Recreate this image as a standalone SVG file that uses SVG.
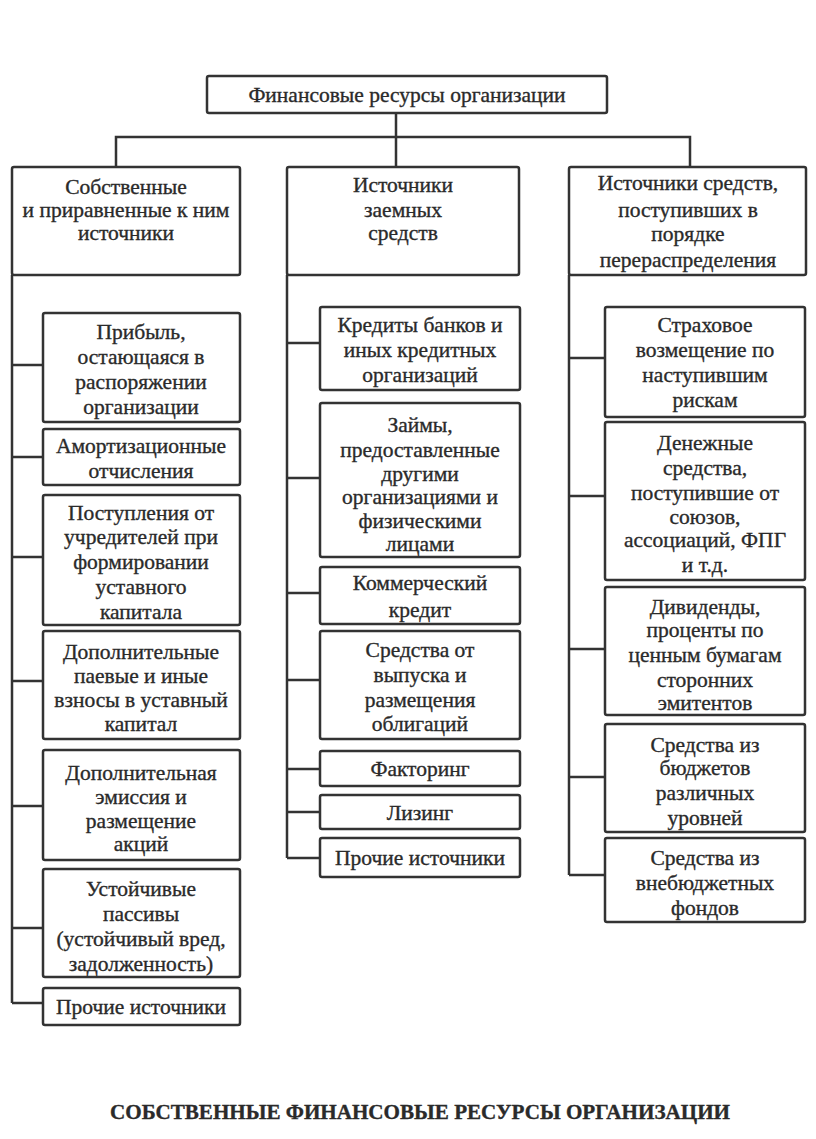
<svg xmlns="http://www.w3.org/2000/svg" width="816" height="1139" viewBox="0 0 816 1139">
<defs>
<style>
.b{fill:#fff;stroke:#333;stroke-width:2.5}
.c{fill:none;stroke:#333;stroke-width:2.5}
.l{fill:#2a2a2a;stroke:#2a2a2a;stroke-width:0.35;text-anchor:middle;font-size:21.5px}
</style>
</defs>
<rect width="816" height="1139" fill="#fff"/>
<g id="connectors">
<path class="c" d="M396 113V137M116 167V137H690V167M396 137V167"/>
<path class="c" d="M12 275V1003M12 365H43M12 457H43M12 557H43M12 681H43M12 806H43M12 928H43M12 1003H43"/>
<path class="c" d="M287 275V858M287 343H320M287 478H320M287 593H320M287 680H320M287 769H320M287 812H320M287 858H320"/>
<path class="c" d="M569 275V875M569 358H605M569 496H605M569 649H605M569 777H605M569 875H605"/>
</g>
<g font-family="Liberation Serif">
<g id="root"><rect class="b" x="207" y="76" width="400" height="37" rx="2"/><text class="l" font-family="Liberation Serif" x="407" y="102">Финансовые ресурсы организации</text></g>
<g id="own"><rect class="b" x="12" y="167" width="228" height="108" rx="2"/><text class="l" font-family="Liberation Serif"><tspan x="126" y="194">Собственные</tspan><tspan x="126" y="217">и приравненные к ним</tspan><tspan x="126" y="240">источники</tspan></text></g>
<g id="borrowed"><rect class="b" x="287" y="167" width="232" height="108" rx="2"/><text class="l" font-family="Liberation Serif"><tspan x="403" y="192">Источники</tspan><tspan x="403" y="217">заемных</tspan><tspan x="403" y="240">средств</tspan></text></g>
<g id="redistributed"><rect class="b" x="569" y="167" width="237" height="108" rx="2"/><text class="l" font-family="Liberation Serif"><tspan x="688" y="190">Источники средств,</tspan><tspan x="688" y="217">поступивших в</tspan><tspan x="688" y="241">порядке</tspan><tspan x="688" y="267">перераспределения</tspan></text></g>

<g id="l1"><rect class="b" x="43" y="313" width="197" height="109" rx="2"/><text class="l" font-family="Liberation Serif"><tspan x="141" y="339">Прибыль,</tspan><tspan x="141" y="364">остающаяся в</tspan><tspan x="141" y="389">распоряжении</tspan><tspan x="141" y="414">организации</tspan></text></g>
<g id="l2"><rect class="b" x="43" y="429" width="197" height="56" rx="2"/><text class="l" font-family="Liberation Serif"><tspan x="141" y="453">Амортизационные</tspan><tspan x="141" y="478">отчисления</tspan></text></g>
<g id="l3"><rect class="b" x="43" y="495" width="197" height="130" rx="2"/><text class="l" font-family="Liberation Serif"><tspan x="141" y="520">Поступления от</tspan><tspan x="141" y="544">учредителей при</tspan><tspan x="141" y="569">формировании</tspan><tspan x="141" y="594">уставного</tspan><tspan x="141" y="619">капитала</tspan></text></g>
<g id="l4"><rect class="b" x="43" y="631" width="197" height="108" rx="2"/><text class="l" font-family="Liberation Serif"><tspan x="141" y="659">Дополнительные</tspan><tspan x="141" y="683">паевые и иные</tspan><tspan x="141" y="707">взносы в уставный</tspan><tspan x="141" y="731">капитал</tspan></text></g>
<g id="l5"><rect class="b" x="43" y="750" width="197" height="110" rx="2"/><text class="l" font-family="Liberation Serif"><tspan x="141" y="780">Дополнительная</tspan><tspan x="141" y="804">эмиссия и</tspan><tspan x="141" y="828">размещение</tspan><tspan x="141" y="851">акций</tspan></text></g>
<g id="l6"><rect class="b" x="43" y="869" width="197" height="108" rx="2"/><text class="l" font-family="Liberation Serif"><tspan x="141" y="896">Устойчивые</tspan><tspan x="141" y="921">пассивы</tspan><tspan x="141" y="946">(устойчивый вред,</tspan><tspan x="141" y="971">задолженность)</tspan></text></g>
<g id="l7"><rect class="b" x="43" y="988" width="197" height="37" rx="2"/><text class="l" font-family="Liberation Serif" x="141" y="1014">Прочие источники</text></g>

<g id="m1"><rect class="b" x="320" y="307" width="200" height="83" rx="2"/><text class="l" font-family="Liberation Serif"><tspan x="420" y="332">Кредиты банков и</tspan><tspan x="420" y="357">иных кредитных</tspan><tspan x="420" y="382">организаций</tspan></text></g>
<g id="m2"><rect class="b" x="320" y="403" width="200" height="154" rx="2"/><text class="l" font-family="Liberation Serif"><tspan x="420" y="432">Займы,</tspan><tspan x="420" y="457">предоставленные</tspan><tspan x="420" y="481">другими</tspan><tspan x="420" y="504">организациями и</tspan><tspan x="420" y="528">физическими</tspan><tspan x="420" y="551">лицами</tspan></text></g>
<g id="m3"><rect class="b" x="320" y="567" width="200" height="57" rx="2"/><text class="l" font-family="Liberation Serif"><tspan x="420" y="590">Коммерческий</tspan><tspan x="420" y="617">кредит</tspan></text></g>
<g id="m4"><rect class="b" x="320" y="631" width="200" height="108" rx="2"/><text class="l" font-family="Liberation Serif"><tspan x="420" y="657">Средства от</tspan><tspan x="420" y="682">выпуска и</tspan><tspan x="420" y="707">размещения</tspan><tspan x="420" y="731">облигаций</tspan></text></g>
<g id="m5"><rect class="b" x="320" y="751" width="200" height="35" rx="2"/><text class="l" font-family="Liberation Serif" x="420" y="776">Факторинг</text></g>
<g id="m6"><rect class="b" x="320" y="795" width="200" height="34" rx="2"/><text class="l" font-family="Liberation Serif" x="420" y="820">Лизинг</text></g>
<g id="m7"><rect class="b" x="320" y="838" width="200" height="39" rx="2"/><text class="l" font-family="Liberation Serif" x="420" y="865">Прочие источники</text></g>

<g id="r1"><rect class="b" x="605" y="307" width="200" height="110" rx="2"/><text class="l" font-family="Liberation Serif"><tspan x="705" y="332">Страховое</tspan><tspan x="705" y="357">возмещение по</tspan><tspan x="705" y="382">наступившим</tspan><tspan x="705" y="407">рискам</tspan></text></g>
<g id="r2"><rect class="b" x="605" y="422" width="200" height="158" rx="2"/><text class="l" font-family="Liberation Serif"><tspan x="705" y="450">Денежные</tspan><tspan x="705" y="475">средства,</tspan><tspan x="705" y="500">поступившие от</tspan><tspan x="705" y="524">союзов,</tspan><tspan x="705" y="547">ассоциаций, ФПГ</tspan><tspan x="705" y="572">и т.д.</tspan></text></g>
<g id="r3"><rect class="b" x="605" y="587" width="200" height="128" rx="2"/><text class="l" font-family="Liberation Serif"><tspan x="705" y="614">Дивиденды,</tspan><tspan x="705" y="637">проценты по</tspan><tspan x="705" y="662">ценным бумагам</tspan><tspan x="705" y="687">сторонних</tspan><tspan x="705" y="710">эмитентов</tspan></text></g>
<g id="r4"><rect class="b" x="605" y="724" width="200" height="108" rx="2"/><text class="l" font-family="Liberation Serif"><tspan x="705" y="752">Средства из</tspan><tspan x="705" y="775">бюджетов</tspan><tspan x="705" y="800">различных</tspan><tspan x="705" y="825">уровней</tspan></text></g>
<g id="r5"><rect class="b" x="605" y="838" width="200" height="84" rx="2"/><text class="l" font-family="Liberation Serif"><tspan x="705" y="865">Средства из</tspan><tspan x="705" y="890">внебюджетных</tspan><tspan x="705" y="915">фондов</tspan></text></g>

<text id="title" class="l" font-family="Liberation Serif" x="420" y="1119" font-weight="bold" style="font-size:21px" textLength="620" lengthAdjust="spacingAndGlyphs">СОБСТВЕННЫЕ ФИНАНСОВЫЕ РЕСУРСЫ ОРГАНИЗАЦИИ</text>
</g>
</svg>
